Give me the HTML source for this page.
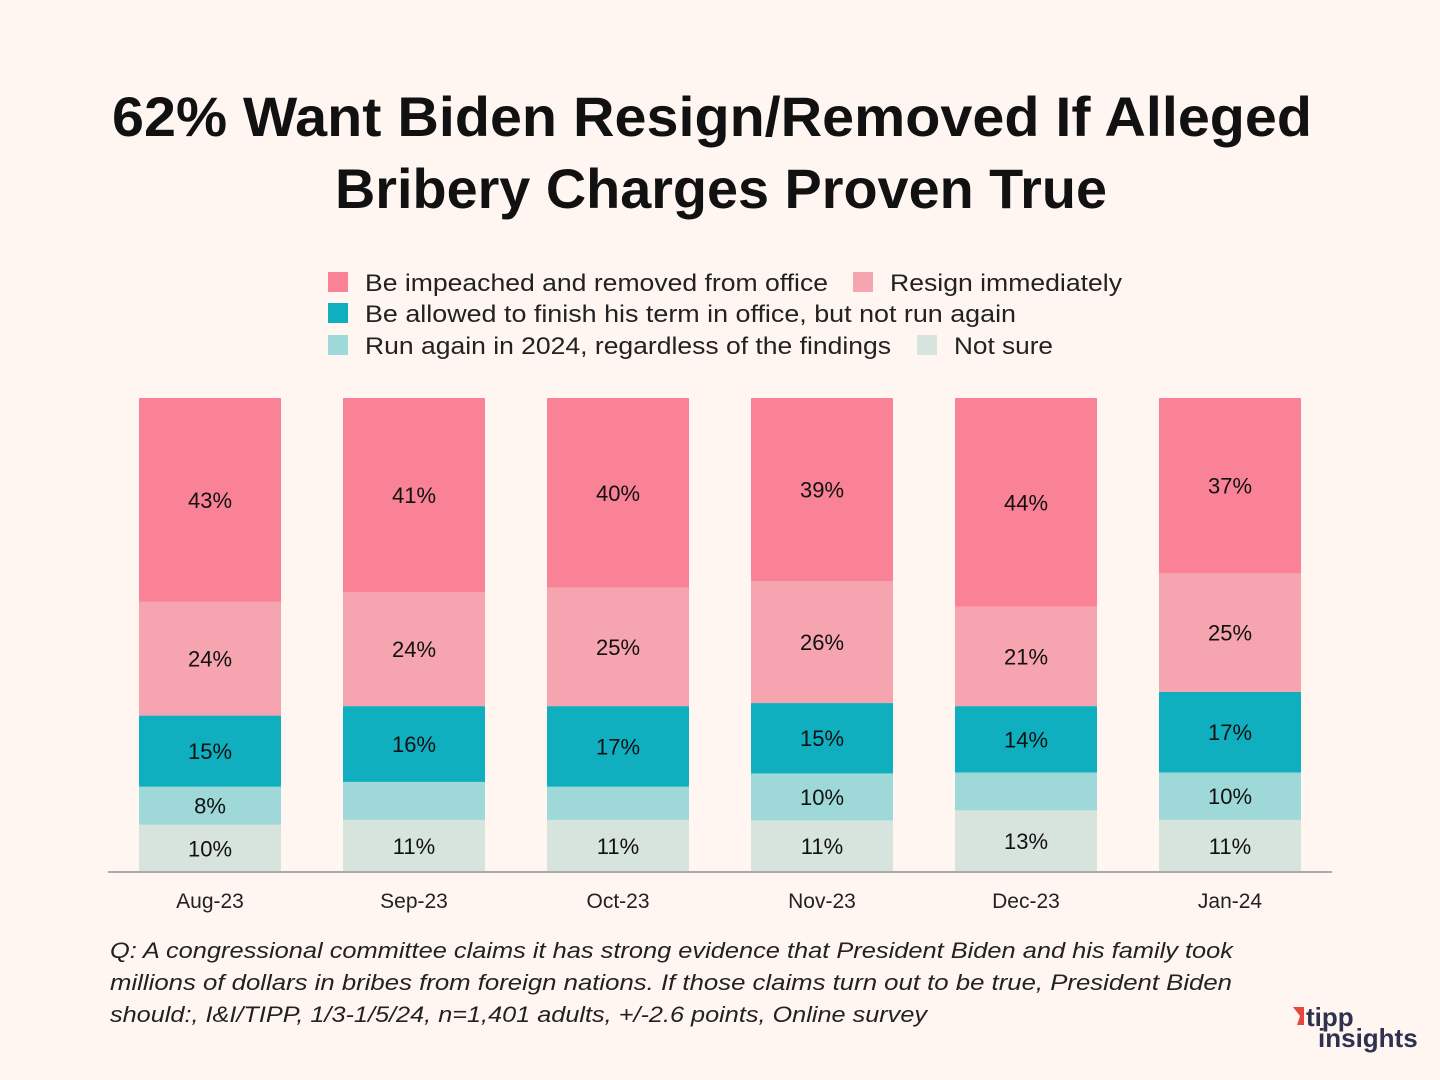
<!DOCTYPE html>
<html><head><meta charset="utf-8">
<style>
body{margin:0;background:#FFF6F1;width:1440px;height:1080px;overflow:hidden;font-family:"Liberation Sans",sans-serif;}
svg{display:block}
</style></head>
<body>
<svg id="chart" width="1440" height="1080">
<rect width="1440" height="1080" fill="#FFF6F1"/>
<text x="112" y="136" textLength="1200" lengthAdjust="spacingAndGlyphs" font-size="56" font-weight="bold" fill="#111">62% Want Biden Resign/Removed If Alleged</text>
<text x="335" y="208" textLength="772" lengthAdjust="spacingAndGlyphs" font-size="56" font-weight="bold" fill="#111">Bribery Charges Proven True</text>
<g id="legend" font-size="24" fill="#222"></g>
<g id="bars"></g>
<line x1="108" y1="872" x2="1332" y2="872" stroke="#aaa" stroke-width="2"/>
<g id="xlabels" font-size="21" fill="#222"></g>
<g font-size="22" font-style="italic" fill="#222">
<text x="110" y="958" textLength="1123" lengthAdjust="spacingAndGlyphs">Q: A congressional committee claims it has strong evidence that President Biden and his family took</text>
<text x="110" y="990" textLength="1122" lengthAdjust="spacingAndGlyphs">millions of dollars in bribes from foreign nations. If those claims turn out to be true, President Biden</text>
<text x="110" y="1022" textLength="817" lengthAdjust="spacingAndGlyphs">should:, I&amp;I/TIPP, 1/3-1/5/24, n=1,401 adults, +/-2.6 points,  Online survey</text>
</g>
<g>
<polygon points="1293,1007 1304,1007 1304,1025 1297,1025 1300,1016" fill="#E8473F"/>
<text x="1306" y="1026" font-size="26" font-weight="bold" fill="#2F3150">tipp</text>
<text x="1318" y="1047" font-size="26" font-weight="bold" fill="#2F3150">insights</text>
</g>
</svg>
<script>
const categories=["Aug-23","Sep-23","Oct-23","Nov-23","Dec-23","Jan-24"];
const impeached=[43,41,40,39,44,37];
const resign=[24,24,25,26,21,25];
const finishTerm=[15,16,17,15,14,17];
const runAgain=[8,8,7,10,8,10];
const notSure=[10,11,11,11,13,11];
const showRunAgainLabel=[true,false,false,true,false,true];
const seriesNames=["Be impeached and removed from office","Resign immediately","Be allowed to finish his term in office, but not run again","Run again in 2024, regardless of the findings","Not sure"];
const colors=["#FA8296","#F6A4AF","#0FAFC0","#9FD8D8","#D7E3DD"];
const NS="http://www.w3.org/2000/svg";
function mk(t,a,p){const e=document.createElementNS(NS,t);for(const k in a)e.setAttribute(k,a[k]);p.appendChild(e);return e;}
const chartTop=398,chartBottom=872,x0=210,step=204,bw=142;
const xScale=i=>x0+i*step;
const bars=document.getElementById('bars');
const stacks=[notSure,runAgain,finishTerm,resign,impeached];
const keys=["not-sure","run-again","finish-term","resign","impeached"];
const cidx=[4,3,2,1,0];
categories.forEach((c,i)=>{
  const total=stacks.reduce((s,a)=>s+a[i],0);
  const yScale=v=>(chartBottom-chartTop)*v/total;
  let y=chartBottom;
  stacks.forEach((arr,s)=>{
    const h=yScale(arr[i]);
    const r=mk('rect',{x:xScale(i)-bw/2,y:y-h,width:bw,height:h,fill:colors[cidx[s]]},bars);
    
    
    const show=keys[s]!=="run-again"||showRunAgainLabel[i];
    if(show){
      const t=mk('text',{x:xScale(i),y:y-h/2+8,'text-anchor':'middle','font-size':22,fill:'#111'},bars);
      t.textContent=arr[i]+'%';
      
      
    }
    y-=h;
  });
  const xl=mk('text',{x:xScale(i),y:908,'text-anchor':'middle'},document.getElementById('xlabels'));
  xl.textContent=c;
  
  
});
const lg=document.getElementById('legend');
const lpos=[[328,283],[853,283],[328,314],[328,346],[917,346]];
const lwid=[463,232,651,526,99];
seriesNames.forEach((n,k)=>{
  const g=mk('g',{},lg);
  
  
  mk('rect',{x:lpos[k][0],y:lpos[k][1]-11,width:20,height:20,fill:colors[k]},g);
  const t=mk('text',{x:lpos[k][0]+37,y:lpos[k][1]+8,textLength:lwid[k],lengthAdjust:'spacingAndGlyphs'},g);
  t.textContent=n;
});
</script>
</body></html>
